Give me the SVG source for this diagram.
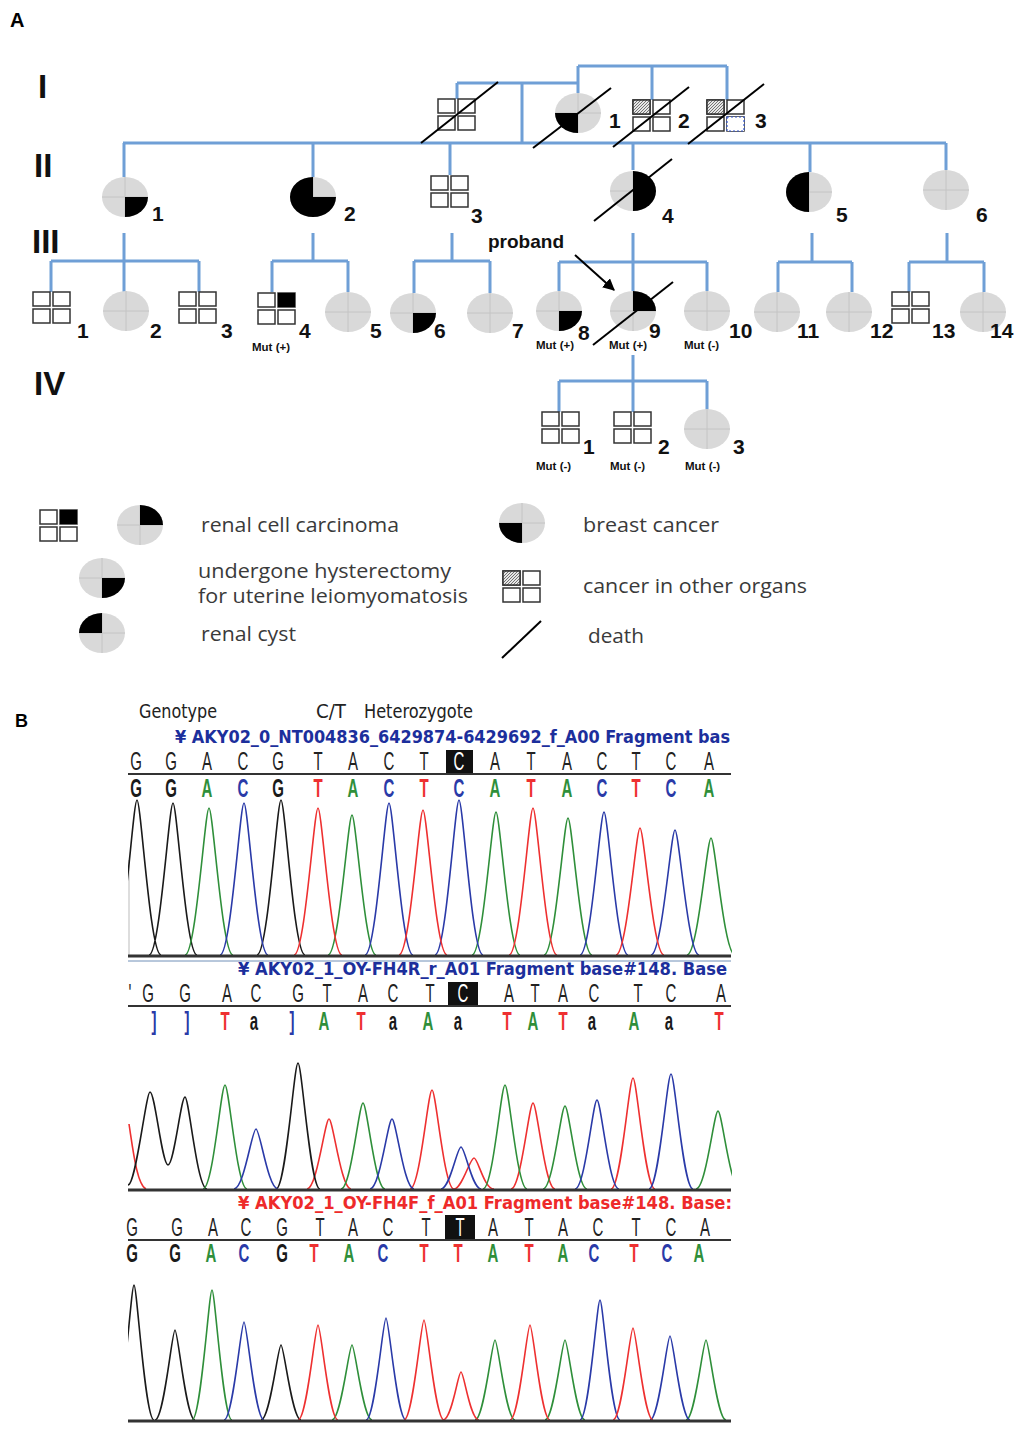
<svg xmlns="http://www.w3.org/2000/svg" width="1024" height="1443" viewBox="0 0 1024 1443">
<style>
.ln{stroke:#6f9fd6;stroke-width:3;fill:none}
.d{stroke:#000;stroke-width:2}
.num{font-family:"Liberation Sans",Arial,sans-serif;font-weight:bold;font-size:21px;fill:#111}
.mut{font-family:"Liberation Sans",Arial,sans-serif;font-weight:bold;font-size:11.5px;fill:#111}
.gen{font-family:"Liberation Sans",Arial,sans-serif;font-weight:bold;font-size:33px;fill:#111}
.leg{font-family:"Open Sans","Liberation Sans",sans-serif;font-size:19.5px;fill:#3a3a3a}
.gq rect{fill:#fff;stroke:#333;stroke-width:1.5}
.nar{font-family:"Liberation Sans Narrow","DejaVu Sans Condensed","Liberation Sans",sans-serif;font-stretch:condensed}
.b1{font-family:"Liberation Sans",Arial,sans-serif;font-size:25px;fill:#222;text-anchor:middle}
.b2{font-family:"Liberation Sans",Arial,sans-serif;font-size:25px;font-weight:bold;text-anchor:middle}
.tr{fill:none;stroke-width:1.6}
.k{stroke:#1a1a1a}.g{stroke:#2f8f3a}.bl{stroke:#2a3aa8}.r{stroke:#ee3030}
.fk{fill:#1a1a1a}.fg{fill:#2f8f3a}.fb{fill:#2a3aa8}.fr{fill:#ee3030}
</style>
<defs>
<pattern id="hatch" width="3" height="3" patternUnits="userSpaceOnUse"><rect width="3" height="3" fill="#e6e6e6"/><path d="M0,3 L3,0" stroke="#666" stroke-width="0.9"/></pattern>
<g id="grid" class="gq"><rect x="0" y="0" width="17" height="14"/><rect x="20" y="0" width="17" height="14"/><rect x="0" y="17" width="17" height="14"/><rect x="20" y="17" width="17" height="14"/></g>
<g id="circ"><ellipse rx="23" ry="20" fill="#d9d9d9"/><path d="M-23,0H23M0,-20V20" stroke="#c4c4c4" stroke-width="1"/></g>
<path id="qUR" d="M0,0V-20A23,20 0 0 1 23,0Z" fill="#000"/>
<path id="qLR" d="M0,0H23A23,20 0 0 1 0,20Z" fill="#000"/>
<path id="qLL" d="M0,0V20A23,20 0 0 1 -23,0Z" fill="#000"/>
<path id="qUL" d="M0,0H-23A23,20 0 0 1 0,-20Z" fill="#000"/>
<marker id="arr" viewBox="0 0 10 10" refX="9" refY="5" markerWidth="6" markerHeight="6" orient="auto"><path d="M0,0 L10,5 L0,10 z" fill="#000"/></marker>
<clipPath id="cl"><rect x="128" y="780" width="604" height="660"/></clipPath>
</defs>
<rect width="1024" height="1443" fill="#fff"/>

<!-- Panel A labels -->
<text x="10" y="27" font-family="Liberation Sans,Arial,sans-serif" font-weight="bold" font-size="20">A</text>
<text class="gen" x="38" y="98">I</text>
<text class="gen" x="34" y="177">II</text>
<text class="gen" x="32" y="253">III</text>
<text class="gen" x="34" y="395">IV</text>

<g id="connectors">
<path class="ln" d="M578,66H727M578,66V93M652,66V100M727,66V100M457,83H578M457,83V99M522,83V143
M123,143H946M124,143V177M313,143V177M450,143V175M633,143V170M810,143V172M946,143V170
M124,233V292M51,261H199M51,261V292M199,261V292
M313,233V261M272,261H348M272,261V292M348,261V292
M452,233V261M414,261H490M414,261V293M490,261V293
M633,233V291M559,262H707M559,262V291M707,262V291
M633,355V381M559,381H707M559,381V412M633,381V412M707,381V410
M812,233V262M778,262H852M778,262V292M852,262V292
M947,233V262M909,262H984M909,262V292M984,262V292"/>
<path d="M575,255L614,290" stroke="#000" stroke-width="2" marker-end="url(#arr)"/>
</g>

<!-- Generation I -->
<g id="I-u"><use href="#grid" x="438" y="99"/><line class="d" x1="421" y1="143" x2="498" y2="82"/></g>
<g id="I-1"><use href="#circ" x="578" y="113"/><use href="#qLL" x="578" y="113"/><line class="d" x1="533" y1="148" x2="611" y2="88"/><text class="num" x="609" y="128">1</text></g>
<g id="I-2"><use href="#grid" x="633" y="100"/><rect x="633" y="100" width="17" height="14" fill="url(#hatch)" stroke="#333" stroke-width="1.5"/><line class="d" x1="613" y1="147" x2="689" y2="87"/><text class="num" x="678" y="128">2</text></g>
<g id="I-3"><use href="#grid" x="707" y="100"/><rect x="707" y="100" width="17" height="14" fill="url(#hatch)" stroke="#333" stroke-width="1.5"/><rect x="727" y="117" width="17" height="14" fill="#fff" stroke="#3355cc" stroke-width="1.2" stroke-dasharray="2,2"/><line class="d" x1="688" y1="144" x2="764" y2="84"/><text class="num" x="755" y="128">3</text></g>

<!-- Generation II -->
<g id="II-1"><use href="#circ" x="125" y="197"/><use href="#qLR" x="125" y="197"/><text class="num" x="152" y="221">1</text></g>
<g id="II-2"><use href="#circ" x="313" y="197"/><path d="M313,197V177A23,20 0 1 0 336,197Z" fill="#000"/><text class="num" x="344" y="221">2</text></g>
<g id="II-3"><use href="#grid" x="431" y="176"/><text class="num" x="471" y="223">3</text></g>
<g id="II-4"><use href="#circ" x="633" y="191"/><path d="M633,171A23,20 0 0 1 633,211Z" fill="#000"/><line class="d" x1="594" y1="221" x2="672" y2="159"/><text class="num" x="662" y="223">4</text></g>
<g id="II-5"><use href="#circ" x="809" y="192"/><path d="M809,172A23,20 0 0 0 809,212Z" fill="#000"/><text class="num" x="836" y="222">5</text></g>
<g id="II-6"><use href="#circ" x="946" y="190"/><text class="num" x="976" y="222">6</text></g>

<!-- Generation III -->
<g id="III-1"><use href="#grid" x="33" y="292"/><text class="num" x="77" y="338">1</text></g>
<g id="III-2"><use href="#circ" x="126" y="311"/><text class="num" x="150" y="338">2</text></g>
<g id="III-3"><use href="#grid" x="179" y="292"/><text class="num" x="221" y="338">3</text></g>
<g id="III-4"><use href="#grid" x="258" y="293"/><rect x="278" y="293" width="17" height="14" fill="#000"/><text class="num" x="299" y="338">4</text><text class="mut" x="252" y="351">Mut (+)</text></g>
<g id="III-5"><use href="#circ" x="348" y="312"/><text class="num" x="370" y="338">5</text></g>
<g id="III-6"><use href="#circ" x="413" y="313"/><use href="#qLR" x="413" y="313"/><text class="num" x="434" y="338">6</text></g>
<g id="III-7"><use href="#circ" x="490" y="313"/><text class="num" x="512" y="338">7</text></g>
<g id="III-8"><use href="#circ" x="559" y="311"/><use href="#qLR" x="559" y="311"/><text class="num" x="578" y="340">8</text><text class="mut" x="536" y="349">Mut (+)</text></g>
<g id="III-9"><use href="#circ" x="633" y="311"/><use href="#qUR" x="633" y="311"/><line class="d" x1="593" y1="345" x2="673" y2="282"/><text class="num" x="649" y="338">9</text><text class="mut" x="609" y="349">Mut (+)</text></g>
<g id="III-10"><use href="#circ" x="707" y="311"/><text class="num" x="729" y="338">10</text><text class="mut" x="684" y="349">Mut (-)</text></g>
<g id="III-11"><use href="#circ" x="777" y="312"/><text class="num" x="797" y="338">11</text></g>
<g id="III-12"><use href="#circ" x="849" y="312"/><text class="num" x="870" y="338">12</text></g>
<g id="III-13"><use href="#grid" x="892" y="292"/><text class="num" x="932" y="338">13</text></g>
<g id="III-14"><use href="#circ" x="983" y="312"/><text class="num" x="990" y="338">14</text></g>
<text id="proband" x="488" y="248" font-family="Liberation Sans,Arial,sans-serif" font-weight="bold" font-size="19" fill="#111">proband</text>

<!-- Generation IV -->
<g id="IV-1"><use href="#grid" x="542" y="412"/><text class="num" x="583" y="454">1</text><text class="mut" x="536" y="470">Mut (-)</text></g>
<g id="IV-2"><use href="#grid" x="614" y="412"/><text class="num" x="658" y="454">2</text><text class="mut" x="610" y="470">Mut (-)</text></g>
<g id="IV-3"><use href="#circ" x="707" y="429"/><text class="num" x="733" y="454">3</text><text class="mut" x="685" y="470">Mut (-)</text></g>

<!-- Legend -->
<g id="legend">
<use href="#grid" x="40" y="510"/><rect x="60" y="510" width="17" height="14" fill="#000"/>
<use href="#circ" x="140" y="525"/><use href="#qUR" x="140" y="525"/>
<text class="leg" x="201" y="532" textLength="198" lengthAdjust="spacingAndGlyphs">renal cell carcinoma</text>
<use href="#circ" x="102" y="578"/><use href="#qLR" x="102" y="578"/>
<text class="leg" x="198" y="578" textLength="253" lengthAdjust="spacingAndGlyphs">undergone hysterectomy</text>
<text class="leg" x="198" y="603" textLength="270" lengthAdjust="spacingAndGlyphs">for uterine leiomyomatosis</text>
<use href="#circ" x="102" y="633"/><use href="#qUL" x="102" y="633"/>
<text class="leg" x="201" y="641" textLength="95" lengthAdjust="spacingAndGlyphs">renal cyst</text>
<use href="#circ" x="522" y="523"/><use href="#qLL" x="522" y="523"/>
<text class="leg" x="583" y="532" textLength="136" lengthAdjust="spacingAndGlyphs">breast cancer</text>
<use href="#grid" x="503" y="571"/><rect x="503" y="571" width="17" height="14" fill="url(#hatch)" stroke="#333" stroke-width="1.5"/>
<text class="leg" x="583" y="593" textLength="224" lengthAdjust="spacingAndGlyphs">cancer in other organs</text>
<line class="d" x1="502" y1="658" x2="541" y2="621"/>
<text class="leg" x="588" y="643" textLength="56" lengthAdjust="spacingAndGlyphs">death</text>
</g>

<!-- Panel B -->
<text x="15" y="727" font-family="Liberation Sans,Arial,sans-serif" font-weight="bold" font-size="18">B</text>
<g id="chromatogram">
<text x="139" y="718" font-size="20" fill="#222" textLength="78" lengthAdjust="spacingAndGlyphs" class="nar">Genotype</text>
<text x="316" y="718" font-size="20" fill="#222" textLength="30" lengthAdjust="spacingAndGlyphs" class="nar">C/T</text>
<text x="364" y="718" font-size="20" fill="#222" textLength="109" lengthAdjust="spacingAndGlyphs" class="nar">Heterozygote</text>

<text x="175" y="743" font-size="17" font-weight="bold" fill="#1c2f9c" textLength="555" lengthAdjust="spacingAndGlyphs" class="nar">¥ AKY02_0_NT004836_6429874-6429692_f_A00 Fragment bas</text>
<rect x="446" y="750" width="27" height="23" fill="#111"/>
<g transform="scale(0.6,1)">
<text class="b1" y="770" x="226.7 285 345 405 463.3 530 588.3 648.3 706.7 765 825 885 945 1003.3 1060 1118.3 1181.7">GGACGTACT<tspan fill="#fff">C</tspan>ATACTCA</text>
<text class="b2" y="797" x="226.7 285 345 405 463.3 530 588.3 648.3 706.7 765 825 885 945 1003.3 1060 1118.3 1181.7"><tspan class="fk">G</tspan><tspan class="fk">G</tspan><tspan class="fg">A</tspan><tspan class="fb">C</tspan><tspan class="fk">G</tspan><tspan class="fr">T</tspan><tspan class="fg">A</tspan><tspan class="fb">C</tspan><tspan class="fr">T</tspan><tspan class="fb">C</tspan><tspan class="fg">A</tspan><tspan class="fr">T</tspan><tspan class="fg">A</tspan><tspan class="fb">C</tspan><tspan class="fr">T</tspan><tspan class="fb">C</tspan><tspan class="fg">A</tspan></text>
</g>
<line x1="128" y1="774" x2="731" y2="774" stroke="#333" stroke-width="2"/>

<g clip-path="url(#cl)">
<line x1="129" y1="860" x2="129" y2="955" stroke="#bbb" stroke-width="1"/>
<path class="tr k" d="M113,955 C124,955 133,800 137,800 C141,800 150,955 161,955 M149,955 C160,955 169,803 173,803 C177,803 186,955 197,955 M257,955 C268,955 277,800 281,800 C285,800 294,955 305,955"/>
<path class="tr g" d="M185,955 C196,955 205,808 209,808 C213,808 222,955 233,955 M328,955 C339,955 348,815 352,815 C356,815 365,955 376,955 M472,955 C483,955 492,812 496,812 C500,812 509,955 520,955 M544,955 C555,955 564,818 568,818 C572,818 581,955 592,955 M687,955 C698,955 707,838 711,838 C715,838 724,955 735,955"/>
<path class="tr bl" d="M220,955 C231,955 240,803 244,803 C248,803 257,955 268,955 M365,955 C376,955 385,803 389,803 C393,803 402,955 413,955 M435,955 C446,955 455,800 459,800 C463,800 472,955 483,955 M580,955 C591,955 600,812 604,812 C608,812 617,955 628,955 M651,955 C662,955 671,830 675,830 C679,830 688,955 699,955"/>
<path class="tr r" d="M294,955 C305,955 314,808 318,808 C322,808 331,955 342,955 M399,955 C410,955 419,810 423,810 C427,810 436,955 447,955 M509,955 C520,955 529,808 533,808 C537,808 546,955 557,955 M616,955 C627,955 636,828 640,828 C644,828 653,955 664,955"/>
</g>
<line x1="128" y1="956" x2="731" y2="956" stroke="#333" stroke-width="3"/>
<line x1="128" y1="961" x2="731" y2="961" stroke="#7090b8" stroke-width="1"/>

<text x="238" y="975" font-size="17" font-weight="bold" fill="#1c2f9c" textLength="489" lengthAdjust="spacingAndGlyphs" class="nar">¥ AKY02_1_OY-FH4R_r_A01 Fragment base#148. Base</text>
<rect x="448" y="982" width="30" height="23" fill="#111"/>
<g transform="scale(0.6,1)">
<text class="b1" y="1002" x="216.7 246.7 308.3 378.3 426.7 496.7 545 605 655 716.7 771.7 848.3 891.7 938.3 990 1063.3 1118.3 1201.7">'GGACGTACT<tspan fill="#fff">C</tspan>ATACTCA</text>
<text class="b2" y="1030" x="256.7 311.7 375 423.3 486.7 540 601.7 655 713.3 763.3 845 888.3 938.3 986.7 1056.7 1115 1198.3"><tspan class="fb">]</tspan><tspan class="fb">]</tspan><tspan class="fr">T</tspan><tspan class="fk">a</tspan><tspan class="fb">]</tspan><tspan class="fg">A</tspan><tspan class="fr">T</tspan><tspan class="fk">a</tspan><tspan class="fg">A</tspan><tspan class="fk">a</tspan><tspan class="fr">T</tspan><tspan class="fg">A</tspan><tspan class="fr">T</tspan><tspan class="fk">a</tspan><tspan class="fg">A</tspan><tspan class="fk">a</tspan><tspan class="fr">T</tspan></text>
</g>
<line x1="128" y1="1006" x2="731" y2="1006" stroke="#333" stroke-width="2"/>

<g clip-path="url(#cl)">
<path class="tr r" d="M129,1124 C133,1150 137,1185 146,1189 M307,1189 C317,1189 325,1119 329,1119 C333,1119 341,1189 351,1189 M410,1189 C420,1189 428,1090 432,1090 C436,1090 444,1189 454,1189 M454,1189 C462,1189 470,1158 474,1158 C478,1158 484,1189 494,1189 M511,1189 C521,1189 529,1103 533,1103 C537,1103 545,1189 555,1189 M611,1189 C621,1189 629,1078 633,1078 C637,1078 645,1189 655,1189"/>
<path class="tr k" d="M128,1185 C136,1185 146,1092 150,1092 C155,1092 162,1165 168,1165 C174,1165 181,1097 185,1097 C189,1097 197,1189 207,1189 M276,1189 C286,1189 294,1063 298,1063 C302,1063 310,1189 320,1189"/>
<path class="tr g" d="M203,1189 C213,1189 221,1085 225,1085 C229,1085 237,1189 247,1189 M341,1189 C351,1189 359,1103 363,1103 C367,1103 375,1189 385,1189 M483,1189 C493,1189 501,1085 505,1085 C509,1085 517,1189 527,1189 M543,1189 C553,1189 561,1106 565,1106 C569,1106 577,1189 587,1189 M696,1189 C706,1189 714,1111 718,1111 C722,1111 730,1189 740,1189"/>
<path class="tr bl" d="M234,1189 C244,1189 252,1129 256,1129 C260,1129 268,1189 278,1189 M370,1189 C380,1189 388,1119 392,1119 C396,1119 404,1189 414,1189 M441,1189 C450,1189 457,1147 461,1147 C465,1147 472,1189 481,1189 M575,1189 C585,1189 593,1100 597,1100 C601,1100 609,1189 619,1189 M649,1189 C659,1189 667,1074 671,1074 C675,1074 683,1189 693,1189"/>
</g>
<line x1="128" y1="1190" x2="731" y2="1190" stroke="#333" stroke-width="3"/>

<text x="238" y="1209" font-size="17" font-weight="bold" fill="#ee2a2a" textLength="494" lengthAdjust="spacingAndGlyphs" class="nar">¥ AKY02_1_OY-FH4F_f_A01 Fragment base#148. Base:</text>
<rect x="445" y="1215" width="30" height="24" fill="#111"/>
<g transform="scale(0.6,1)">
<text class="b1" y="1236" x="220 295 355 410 470 533.3 588.3 646.7 710 766.7 821.7 881.7 938.3 996.7 1060 1118.3 1175">GGACGTACT<tspan fill="#fff">T</tspan>ATACTCA</text>
<text class="b2" y="1262" x="220 291.7 351.7 406.7 470 523.3 581.7 638.3 706.7 763.3 821.7 881.7 938.3 990 1056.7 1111.7 1165"><tspan class="fk">G</tspan><tspan class="fk">G</tspan><tspan class="fg">A</tspan><tspan class="fb">C</tspan><tspan class="fk">G</tspan><tspan class="fr">T</tspan><tspan class="fg">A</tspan><tspan class="fb">C</tspan><tspan class="fr">T</tspan><tspan class="fr">T</tspan><tspan class="fg">A</tspan><tspan class="fr">T</tspan><tspan class="fg">A</tspan><tspan class="fb">C</tspan><tspan class="fr">T</tspan><tspan class="fb">C</tspan><tspan class="fg">A</tspan></text>
</g>
<line x1="128" y1="1240" x2="731" y2="1240" stroke="#333" stroke-width="2"/>

<g clip-path="url(#cl)">
<path class="tr k" d="M114,1420 C123,1420 131,1285 134,1285 C137,1285 145,1420 154,1420 M155,1420 C164,1420 172,1330 175,1330 C178,1330 186,1420 195,1420 M261,1420 C270,1420 278,1345 281,1345 C284,1345 292,1420 301,1420"/>
<path class="tr g" d="M192,1420 C201,1420 209,1290 212,1290 C215,1290 223,1420 232,1420 M332,1420 C341,1420 349,1345 352,1345 C355,1345 363,1420 372,1420 M475,1420 C484,1420 492,1340 495,1340 C498,1340 506,1420 515,1420 M545,1420 C554,1420 562,1340 565,1340 C568,1340 576,1420 585,1420 M686,1420 C695,1420 703,1340 706,1340 C709,1340 717,1420 726,1420"/>
<path class="tr bl" d="M224,1420 C233,1420 241,1322 244,1322 C247,1322 255,1420 264,1420 M366,1420 C375,1420 383,1318 386,1318 C389,1318 397,1420 406,1420 M580,1420 C589,1420 597,1300 600,1300 C603,1300 611,1420 620,1420 M650,1420 C659,1420 667,1336 670,1336 C673,1336 681,1420 690,1420"/>
<path class="tr r" d="M298,1420 C307,1420 315,1325 318,1325 C321,1325 329,1420 338,1420 M404,1420 C413,1420 421,1320 424,1320 C427,1320 435,1420 444,1420 M443,1420 C452,1420 458,1372 461,1372 C464,1372 470,1420 479,1420 M510,1420 C519,1420 527,1325 530,1325 C533,1325 541,1420 550,1420 M613,1420 C622,1420 630,1328 633,1328 C636,1328 644,1420 653,1420"/>
</g>
<line x1="128" y1="1421" x2="731" y2="1421" stroke="#333" stroke-width="3"/>
</g>
</svg>
